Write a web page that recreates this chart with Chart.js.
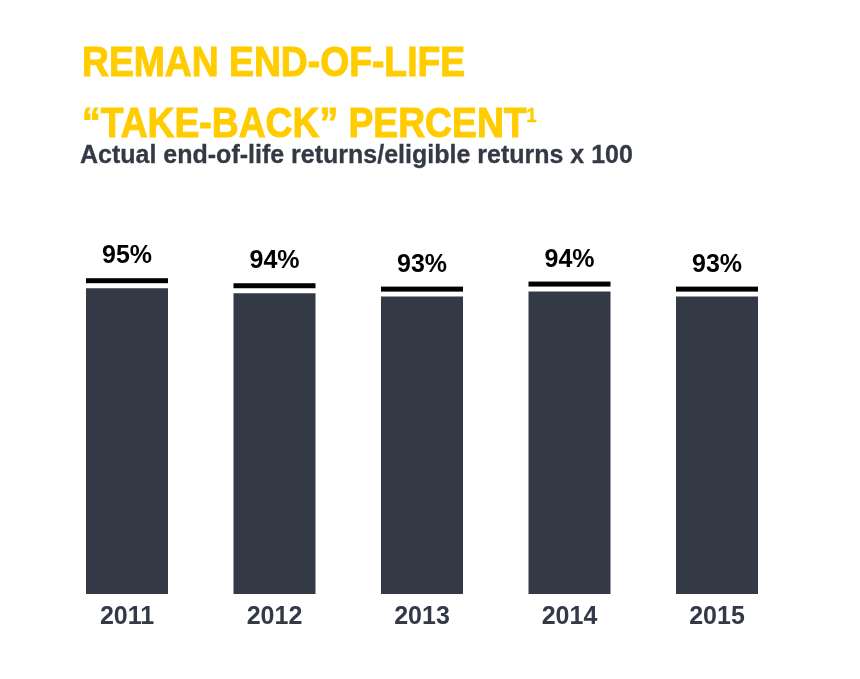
<!DOCTYPE html>
<html>
  <head>
    <title>Reman End-of-Life Take-Back Percent</title>
    <script src="https://cdn.jsdelivr.net/npm/chart.js"></script>
    <style>
      body {
        margin: 0;
        background: #ffffff;
      }
      .page {
        position: relative;
        width: 860px;
        height: 679px;
        overflow: hidden;
      }
      .title {
        position: absolute;
        left: 82px;
        top: 34px;
        font-family: "Liberation Sans", Arial, sans-serif;
        font-weight: bold;
        font-size: 43px;
        line-height: 54px;
        color: #ffcc00;
        -webkit-text-stroke: 1px #ffcc00;
        white-space: nowrap;
        transform: scaleX(0.867);
        transform-origin: left top;
      }
      .title .sup {
        font-size: 21px;
        vertical-align: 15px;
        -webkit-text-stroke: 0.5px #ffcc00;
      }
      .subtitle {
        position: absolute;
        left: 80px;
        top: 142px;
        font-family: "Liberation Sans", Arial, sans-serif;
        font-weight: bold;
        font-size: 25px;
        line-height: 25px;
        color: #343a45;
        -webkit-text-stroke: 0.3px #343a45;
        white-space: nowrap;
      }
      canvas {
        position: absolute;
        left: 0;
        top: 0;
      }
    </style>
  </head>
  <body>
    <div class="page">
      <canvas id="takeBackChart" width="860" height="679"></canvas>
      <div class="title">REMAN END-OF-LIFE<br>&ldquo;TAKE-BACK&rdquo; PERCENT<span class="sup">1</span></div>
      <div class="subtitle">Actual end-of-life returns/eligible returns x 100</div>
    </div>
    <script>
      // data
      var years = ['2011', '2012', '2013', '2014', '2015'];
      var takeBack = [95.0, 93.8, 93.0, 94.2, 93.0];

      var fontFamily = '"Liberation Sans", Arial, sans-serif';

      // black cap line + percent label above each bar
      var capPlugin = {
        id: 'capLines',
        afterDatasetsDraw: function(chart) {
          var ctx = chart.ctx;
          var meta = chart.getDatasetMeta(0);
          ctx.save();
          meta.data.forEach(function(bar, i) {
            var half = bar.width / 2;
            ctx.fillStyle = '#000000';
            ctx.fillRect(bar.x - half, bar.y - 10, bar.width, 5);
            ctx.font = 'bold 25px ' + fontFamily;
            ctx.textAlign = 'center';
            ctx.textBaseline = 'alphabetic';
            ctx.fillText(Math.round(takeBack[i]) + '%', bar.x, bar.y - 25);
          });
          ctx.restore();
        }
      };

      new Chart(document.getElementById('takeBackChart').getContext('2d'), {
        type: 'bar',
        data: {
          labels: years,
          datasets: [{
            data: takeBack,
            backgroundColor: '#343a45',
            borderWidth: 0,
            categoryPercentage: 1,
            barPercentage: 0.556
          }]
        },
        options: {
          responsive: false,
          animation: false,
          layout: {
            padding: { top: 267.2, bottom: 39, left: 53.25, right: 69.25 }
          },
          plugins: {
            legend: { display: false },
            tooltip: { enabled: false }
          },
          scales: {
            x: {
              grid: { display: false, drawTicks: false },
              border: { display: false },
              ticks: {
                padding: 8,
                color: '#343a45',
                font: { family: fontFamily, size: 25, weight: 'bold' }
              }
            },
            y: {
              display: false,
              min: 22.2,
              max: 100
            }
          }
        },
        plugins: [capPlugin]
      });
    </script>
  </body>
</html>
